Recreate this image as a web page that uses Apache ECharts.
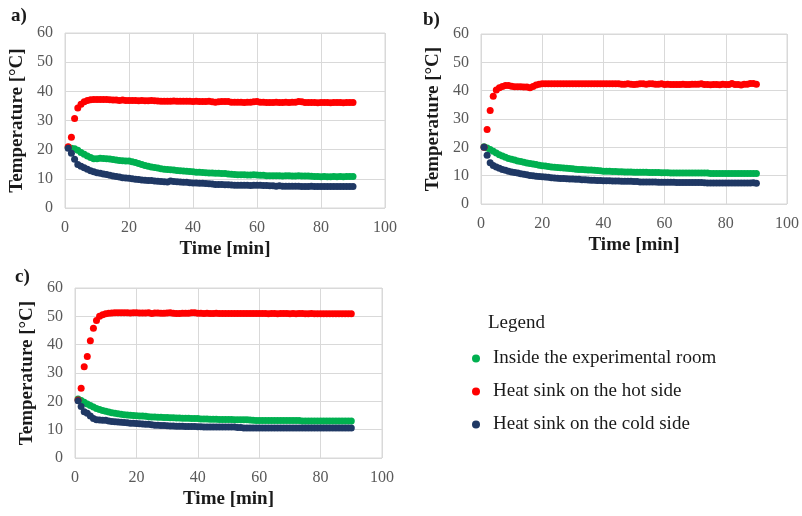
<!DOCTYPE html>
<html>
<head>
<meta charset="utf-8">
<script src="https://cdn.jsdelivr.net/npm/echarts@6/dist/echarts.min.js"></script>
<style>html,body{margin:0;padding:0;background:#fff;}#c{width:802px;height:516px;}</style>
</head>
<body>
<div id="c"></div>
<script>
var time = [1,2,3,4,5,6,7,8,9,10,11,12,13,14,15,16,17,18,19,20,21,22,23,24,25,26,27,28,29,30,31,32,33,34,35,36,37,38,39,40,41,42,43,44,45,46,47,48,49,50,51,52,53,54,55,56,57,58,59,60,61,62,63,64,65,66,67,68,69,70,71,72,73,74,75,76,77,78,79,80,81,82,83,84,85,86,87,88,89,90];
var seriesNames = ['Inside the experimental room', 'Heat sink on the hot side', 'Heat sink on the cold side'];
var xTicks = [0, 20, 40, 60, 80, 100];
var yTicks = [0, 10, 20, 30, 40, 50, 60];
var panelLabels = ['a)', 'b)', 'c)'];

// Panel a
var roomA = [20.8,20.5,20.3,19.8,19.0,18.4,17.8,17.3,16.9,16.9, 17.1,17.0,16.9,16.8,16.6,16.5,16.3,16.2,16.1,16.1, 15.9,15.6,15.3,14.9,14.6,14.3,14.1,13.9,13.7,13.5, 13.3,13.2,13.1,13.0,12.9,12.8,12.7,12.6,12.5,12.4, 12.3,12.3,12.2,12.1,12.0,12.0,11.9,11.9,11.8,11.8, 11.7,11.6,11.5,11.4,11.4,11.4,11.3,11.3,11.4,11.3, 11.2,11.2,11.1,11.1,11.1,11.1,11.1,11.0,11.1,11.1, 11.0,11.0,11.1,11.0,11.0,11.0,10.9,10.8,10.8,10.7, 10.8,10.7,10.7,10.8,10.7,10.8,10.7,10.8,10.8,10.8];
var hotA = [21.0,24.3,30.7,34.3,35.6,36.4,36.9,37.1,37.2,37.2, 37.2,37.2,37.2,37.1,37.0,37.0,36.9,37.0,36.9,36.9, 36.9,36.9,36.8,36.9,36.8,36.8,36.9,36.8,36.7,36.6, 36.6,36.6,36.6,36.7,36.6,36.6,36.6,36.6,36.6,36.5, 36.6,36.5,36.5,36.5,36.6,36.4,36.3,36.4,36.5,36.5, 36.5,36.3,36.3,36.3,36.3,36.2,36.3,36.3,36.4,36.5, 36.3,36.3,36.2,36.2,36.2,36.3,36.2,36.2,36.3,36.2, 36.3,36.3,36.5,36.4,36.2,36.2,36.2,36.2,36.1,36.2, 36.2,36.2,36.1,36.2,36.2,36.2,36.1,36.2,36.2,36.2];
var coldA = [20.5,18.8,16.7,14.9,14.3,13.8,13.3,12.8,12.4,12.1, 11.9,11.7,11.5,11.2,11.0,10.8,10.6,10.4,10.3,10.2, 10.0,9.9,9.8,9.6,9.5,9.4,9.4,9.3,9.2,9.1, 9.0,8.9,9.3,9.1,9.0,8.9,8.8,8.8,8.7,8.6, 8.6,8.5,8.5,8.4,8.3,8.2,8.1,8.1,8.1,8.0, 8.0,7.9,7.8,7.8,7.8,7.8,7.8,7.7,7.8,7.8, 7.8,7.7,7.7,7.6,7.6,7.5,7.6,7.5,7.5,7.5, 7.5,7.5,7.5,7.4,7.4,7.4,7.5,7.4,7.4,7.4, 7.4,7.4,7.4,7.4,7.4,7.4,7.4,7.4,7.4,7.4];

// Panel b
var roomB = [20.2,19.8,19.2,18.6,18.0,17.4,16.9,16.5,16.1,15.8, 15.5,15.2,15.0,14.7,14.5,14.3,14.1,13.9,13.7,13.5, 13.4,13.2,13.1,13.0,12.9,12.8,12.7,12.6,12.5,12.4, 12.3,12.2,12.2,12.1,12.0,12.0,11.9,11.8,11.7,11.6, 11.6,11.6,11.5,11.5,11.4,11.4,11.3,11.3,11.3,11.2, 11.2,11.2,11.2,11.2,11.1,11.1,11.1,11.1,11.0,11.0, 11.0,10.9,10.9,10.9,10.9,10.9,10.9,10.9,10.9,10.9, 10.9,10.9,10.9,10.9,10.8,10.8,10.8,10.8,10.8,10.8, 10.8,10.8,10.8,10.8,10.8,10.8,10.8,10.8,10.8,10.8];
var hotB = [20.0,26.3,33.0,38.0,40.2,41.0,41.5,41.8,41.8,41.6, 41.4,41.4,41.4,41.3,41.3,41.0,41.5,42.0,42.3,42.4, 42.4,42.4,42.4,42.4,42.4,42.4,42.4,42.4,42.4,42.4, 42.4,42.4,42.4,42.4,42.4,42.4,42.4,42.4,42.4,42.4, 42.4,42.4,42.4,42.4,42.4,42.3,42.3,42.4,42.3,42.2, 42.3,42.4,42.4,42.3,42.4,42.4,42.3,42.3,42.4,42.2, 42.3,42.2,42.2,42.2,42.2,42.3,42.2,42.2,42.3,42.3, 42.3,42.4,42.2,42.2,42.1,42.2,42.2,42.1,42.3,42.2, 42.2,42.5,42.2,42.2,42.0,42.3,42.3,42.5,42.5,42.3];
var coldB = [20.0,17.2,14.6,13.6,13.1,12.6,12.2,11.9,11.6,11.3, 11.1,10.9,10.7,10.5,10.3,10.1,10.0,9.8,9.7,9.6, 9.5,9.4,9.3,9.2,9.1,9.0,9.0,8.9,8.8,8.8, 8.7,8.7,8.6,8.6,8.5,8.4,8.4,8.3,8.3,8.2, 8.2,8.2,8.1,8.1,8.1,8.0,8.0,8.0,8.0,7.9, 7.9,7.8,7.8,7.8,7.8,7.8,7.8,7.7,7.7,7.7, 7.7,7.7,7.7,7.6,7.6,7.6,7.6,7.6,7.6,7.6, 7.6,7.6,7.5,7.4,7.4,7.4,7.4,7.4,7.4,7.4, 7.4,7.4,7.4,7.4,7.4,7.4,7.4,7.4,7.5,7.3];

// Panel c
var roomC = [20.8,20.3,19.7,19.1,18.5,18.0,17.5,17.1,16.8,16.5, 16.2,16.0,15.8,15.6,15.4,15.3,15.2,15.1,15.0,14.9, 14.8,14.8,14.7,14.6,14.5,14.5,14.4,14.4,14.3,14.3, 14.2,14.2,14.1,14.1,14.0,14.0,14.0,13.9,13.9,13.9, 13.8,13.8,13.8,13.7,13.7,13.7,13.6,13.6,13.6,13.6, 13.6,13.5,13.5,13.5,13.5,13.5,13.4,13.3,13.2,13.2, 13.2,13.2,13.2,13.2,13.2,13.2,13.2,13.2,13.2,13.2, 13.2,13.2,13.2,13.1,13.1,13.1,13.1,13.1,13.1,13.1, 13.1,13.1,13.1,13.1,13.1,13.1,13.1,13.1,13.1,13.1];
var hotC = [20.5,24.6,32.2,35.8,41.4,45.8,48.5,50.0,50.6,50.9, 51.1,51.2,51.3,51.3,51.3,51.3,51.3,51.2,51.3,51.3, 51.2,51.2,51.2,51.3,51.0,51.2,51.2,51.1,51.1,51.2, 51.3,51.1,51.0,51.0,51.1,51.1,51.1,51.3,51.3,51.1, 51.1,51.0,51.1,51.0,51.0,51.1,51.0,51.0,51.0,51.0, 51.0,51.0,51.0,51.0,51.0,51.0,51.0,51.0,51.0,51.0, 51.0,51.0,50.9,51.0,51.0,50.9,51.0,51.0,51.0,50.9, 51.0,50.9,51.0,51.0,50.9,50.9,51.0,50.9,50.9,50.9, 50.9,50.9,50.9,50.9,50.9,50.9,50.9,50.9,50.9,50.9];
var coldC = [20.2,18.2,16.3,15.8,14.8,13.9,13.5,13.4,13.3,13.3, 13.1,12.9,12.8,12.7,12.6,12.5,12.4,12.3,12.3,12.2, 12.1,12.0,11.9,11.9,11.7,11.6,11.6,11.5,11.5,11.4, 11.3,11.3,11.2,11.2,11.2,11.1,11.1,11.1,11.1,11.0, 11.0,10.9,10.9,10.9,10.9,10.9,10.9,10.9,10.9,10.9, 10.9,10.9,10.8,10.8,10.6,10.6,10.6,10.6,10.6,10.6, 10.6,10.6,10.6,10.6,10.6,10.6,10.6,10.6,10.6,10.6, 10.6,10.6,10.6,10.6,10.6,10.6,10.6,10.6,10.6,10.6, 10.6,10.6,10.6,10.6,10.6,10.6,10.6,10.6,10.6,10.6];

var colors = ['#00b050', '#ff0000', '#1f3864'];
var panels = [[roomA, hotA, coldA], [roomB, hotB, coldB], [roomC, hotC, coldC]];

var FONT = '"Liberation Serif", "Times New Roman", serif';
var grids = [
  {left: 65, top: 33, width: 320, height: 175},
  {left: 481, top: 34, width: 309, height: 170},
  {left: 75, top: 288, width: 307, height: 170}
];

function pairs(vals) {
  return vals.map(function (v, i) { return [time[i], v]; });
}

var xAxes = [], yAxes = [], series = [];
grids.forEach(function (g, k) {
  g.show = true;
  g.borderColor = '#d9d9d9';
  g.borderWidth = 1;
  g.containLabel = false;
  xAxes.push({
    gridIndex: k, type: 'value', min: xTicks[0], max: xTicks[xTicks.length - 1], interval: 20,
    name: 'Time [min]', nameLocation: 'middle', nameGap: 32,
    nameTextStyle: {fontFamily: FONT, fontWeight: 'bold', fontSize: 19, color: '#1a1a1a'},
    axisLine: {show: false}, axisTick: {show: false},
    axisLabel: {fontFamily: FONT, fontSize: 16, color: '#595959', margin: 12},
    splitLine: {show: true, lineStyle: {color: '#d9d9d9', width: 1}}
  });
  yAxes.push({
    gridIndex: k, type: 'value', min: yTicks[0], max: yTicks[yTicks.length - 1], interval: 10,
    name: 'Temperature [\u00B0C]', nameLocation: 'middle', nameGap: 38,
    nameTextStyle: {fontFamily: FONT, fontWeight: 'bold', fontSize: 19, color: '#1a1a1a'},
    axisLine: {show: false}, axisTick: {show: false},
    axisLabel: {fontFamily: FONT, fontSize: 16, color: '#595959', margin: 12},
    splitLine: {show: true, lineStyle: {color: '#d9d9d9', width: 1}}
  });
  panels[k].forEach(function (vals, s) {
    series.push({
      type: 'scatter', name: seriesNames[s], xAxisIndex: k, yAxisIndex: k,
      data: pairs(vals), symbol: 'circle', symbolSize: 7,
      itemStyle: {color: colors[s], opacity: 1},
      emphasis: {disabled: true}, animation: false
    });
  });
});

var option = {
  backgroundColor: '#ffffff',
  animation: false,
  title: [
    {text: panelLabels[0], left: 6, top: 2, textStyle: {fontFamily: FONT, fontWeight: 'bold', fontSize: 19, color: '#1a1a1a'}},
    {text: panelLabels[1], left: 418, top: 6, textStyle: {fontFamily: FONT, fontWeight: 'bold', fontSize: 19, color: '#1a1a1a'}},
    {text: panelLabels[2], left: 10, top: 263, textStyle: {fontFamily: FONT, fontWeight: 'bold', fontSize: 19, color: '#1a1a1a'}},
    {text: 'Legend', left: 483, top: 309, textStyle: {fontFamily: FONT, fontWeight: 'normal', fontSize: 19, color: '#1a1a1a'}}
  ],
  legend: {
    data: seriesNames, orient: 'vertical', left: 467, top: 344, itemGap: 14,
    icon: 'circle', itemWidth: 8, itemHeight: 8, selectedMode: false,
    textStyle: {fontFamily: FONT, fontSize: 19, color: '#1a1a1a', padding: [0, 0, 0, 8]}
  },
  grid: grids,
  xAxis: xAxes,
  yAxis: yAxes,
  series: series
};

var chart = echarts.init(document.getElementById('c'), null, {renderer: 'canvas'});
chart.setOption(option);
</script>
</body>
</html>
